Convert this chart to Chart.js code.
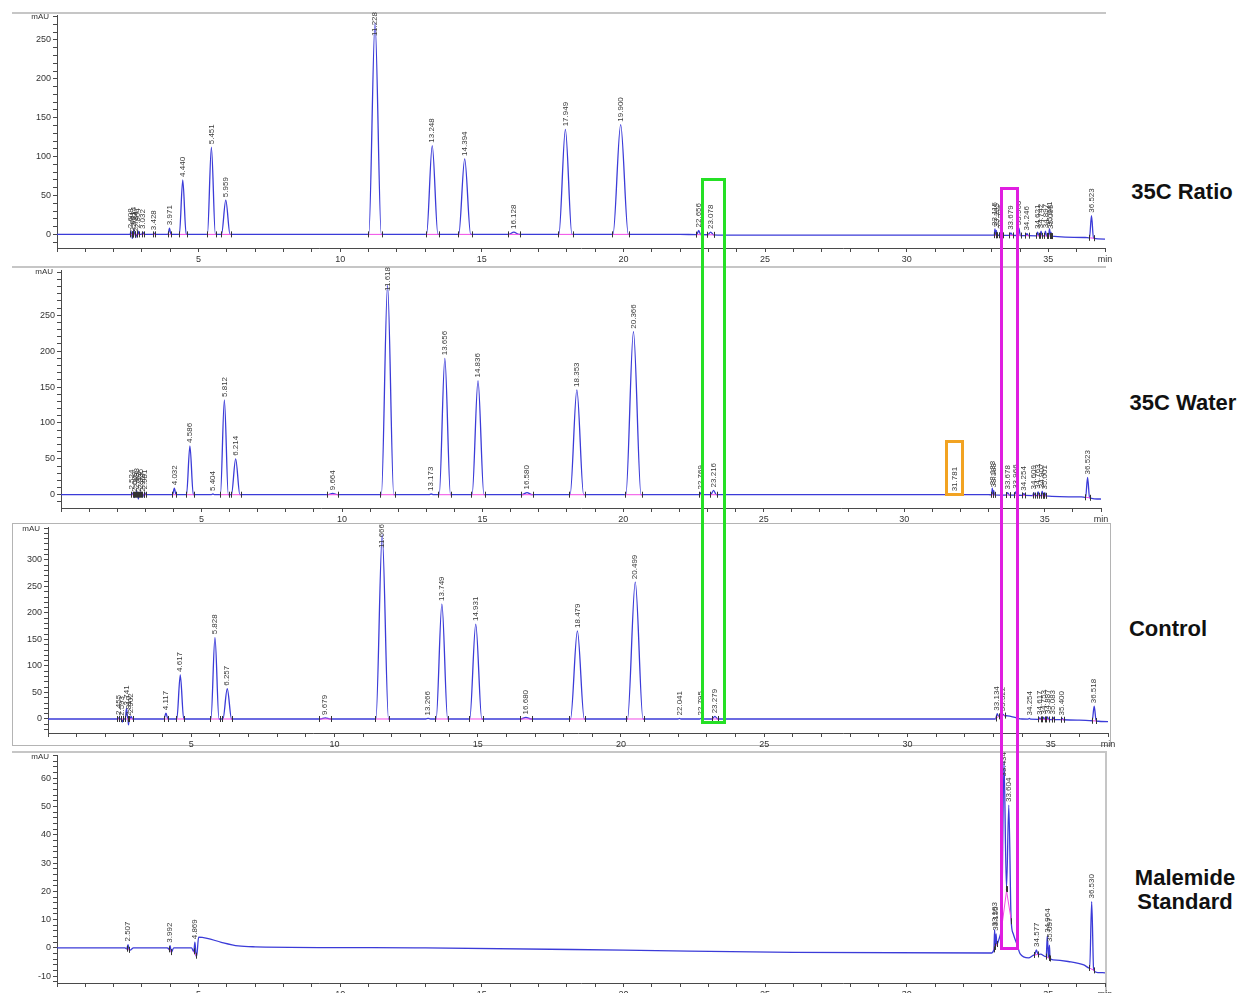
<!DOCTYPE html>
<html>
<head>
<meta charset="utf-8">
<script src="https://cdn.jsdelivr.net/npm/chart.js@4.4.1/dist/chart.umd.min.js"></script>
<style>
  html, body { margin: 0; padding: 0; background: #fff; }
  body { width: 1240px; height: 993px; overflow: hidden; position: relative; font-family: "Liberation Sans", Arial, sans-serif; }
  canvas { position: absolute; }
  .rule { position: absolute; background: #c6c6c6; }
  .frame { position: absolute; box-sizing: border-box; border: 1px solid #b4b4b4; }
  .mark { position: absolute; box-sizing: border-box; border-style: solid; border-width: 3px; }
  .title { position: absolute; width: 130px; text-align: center; font-weight: bold; font-size: 22px; line-height: 24px; color: #111; }
</style>
</head>
<body>

<div class="rule" style="left:12px;top:12px;width:1094px;height:2px"></div>
<div class="rule" style="left:12px;top:266px;width:1094px;height:2px"></div>
<div class="frame" style="left:12px;top:523px;width:1099px;height:223px"></div>
<div class="rule" style="left:12px;top:751px;width:1095px;height:2px"></div>
<div class="rule" style="left:1105px;top:751px;width:2px;height:242px"></div>

<div class="title" style="left:1117px;top:180px">35C Ratio</div>
<div class="title" style="left:1118px;top:391px">35C Water</div>
<div class="title" style="left:1103px;top:617px">Control</div>
<div class="title" style="left:1120px;top:866px">Malemide<br>Standard</div>

<script>
// ---- Retention-time axis (min) ----
const timeMin = 0;
const timeMax = 37;
const timeStep = 1;
const timeLabelEvery = 5;

// ---- 35C Ratio ----
// baseline anchors: [time, mAU]
const ratioBaseline = [[0, 0], [22, 0], [24, -1], [33, -1], [35, -2], [36.3, -4], [37, -6]];
// peaks: [retention time, apex mAU, half width (min)]
const ratioPeaks = [
  [2.608, 4, 0.025], [2.661, -5, 0.025], [2.714, 6, 0.025], [2.784, -4, 0.025], [2.864, 4, 0.03], [3.032, 3, 0.04],
  [3.428, 1.5, 0.04], [3.971, 8, 0.05], [4.440, 70, 0.12], [5.451, 112, 0.14], [5.959, 44, 0.15],
  [11.228, 272, 0.22], [13.248, 114, 0.2], [14.394, 97, 0.21], [16.128, 3, 0.18], [17.949, 135, 0.23], [19.900, 141, 0.27],
  [22.656, 5, 0.07], [23.078, 3, 0.1],
  [33.115, 7, 0.025], [33.165, 5, 0.025], [33.326, 3, 0.05], [33.679, 2, 0.06], [33.960, 8, 0.05], [34.246, 1, 0.05],
  [34.621, 3, 0.04], [34.742, 4, 0.04], [34.897, 4, 0.04], [35.041, 7, 0.035], [35.095, 3, 0.018], [36.523, 24, 0.07]
];
// [axis min, axis max, highest labelled tick]
const ratioRange = [-17.5, 282, 250];

// ---- 35C Water ----
const waterBaseline = [[0, 0], [33, 0], [35, -1.5], [36.3, -3], [37, -6]];
const waterPeaks = [
  [2.524, 3, 0.025], [2.609, -4, 0.025], [2.688, 5, 0.025], [2.752, -6, 0.025], [2.835, 4, 0.025], [2.907, -3, 0.025], [2.981, 3, 0.03],
  [4.032, 9, 0.06], [4.586, 68, 0.12], [5.404, 1, 0.05], [5.812, 132, 0.14], [6.214, 50, 0.15], [9.664, 2, 0.18],
  [11.618, 292, 0.22], [13.173, 1, 0.08], [13.656, 190, 0.2], [14.836, 159, 0.21], [16.580, 3, 0.18], [18.353, 146, 0.24], [20.366, 227, 0.27],
  [22.769, 3, 0.05], [23.216, 6, 0.1], [31.781, 0.5, 0.08],
  [33.133, 9, 0.025], [33.183, 6, 0.025], [33.678, 3, 0.06], [33.966, 4, 0.05], [34.254, 1.5, 0.05],
  [34.609, 3, 0.04], [34.763, 4, 0.04], [34.907, 5, 0.04], [35.001, 3, 0.03], [36.523, 24, 0.07]
];
const waterRange = [-18.5, 313, 250];

// ---- Control ----
const controlBaseline = [[0, 0], [33.05, 0], [33.25, 7], [33.5, 6], [33.75, 3], [34.0, 0], [36, -2], [37, -5]];
const controlPeaks = [
  [2.455, 2, 0.03], [2.593, -6, 0.035], [2.741, 20, 0.045], [2.810, -11, 0.02], [2.902, 5, 0.05],
  [4.117, 11, 0.07], [4.617, 83, 0.12], [5.828, 154, 0.14], [6.257, 57, 0.15], [9.679, 2, 0.18],
  [11.666, 347, 0.22], [13.266, 1, 0.08], [13.749, 217, 0.2], [14.931, 179, 0.21], [16.680, 3, 0.18], [18.479, 166, 0.24], [20.499, 258, 0.27],
  [22.041, 1, 0.05], [22.795, 1, 0.05], [23.279, 5, 0.1],
  [33.134, 10, 0.05], [33.322, 9, 0.06], [34.254, 1, 0.04], [34.617, 2, 0.04], [34.753, 3, 0.04], [34.887, 4, 0.04],
  [35.083, 3, 0.04], [35.400, 1, 0.05], [36.518, 24, 0.07]
];
const controlRange = [-26.4, 362, 300];

// ---- Malemide Standard ----
const standardBaseline = [
  [0, 0], [2.4, 0], [2.58, -0.8], [2.7, 0], [3.9, 0], [4.04, -1.5], [4.12, 0], [4.75, 0], [4.93, -3], [5.0, 3.8],
  [5.3, 3.4], [5.8, 2], [6.4, 0.7], [7, 0.4], [13, 0], [20, -0.8], [26, -1.6], [33.0, -1.8], [33.22, 2], [33.34, 6],
  [33.52, 21.6], [33.76, 5], [33.9, 1], [34.0, -2], [34.3, -3.5], [34.5, -2.5], [34.72, -2.2], [35.17, -4.2],
  [35.7, -4.8], [36.25, -6], [36.75, -8.7], [37, -8.8]
];
const standardPeaks = [
  [2.507, 1.2, 0.04], [3.992, 0.8, 0.04], [4.869, 2, 0.04],
  [33.103, 6.5, 0.025], [33.155, 5, 0.025], [33.434, 66, 0.085], [33.604, 50.5, 0.08],
  [34.577, -0.7, 0.06], [34.964, 4.3, 0.04], [35.037, 1, 0.025], [36.530, 16.4, 0.07]
];
const standardRange = [-12.4, 68.2, 60];

// ---- helpers ----
function baseAt(anchors, t) {
  for (let i = 1; i < anchors.length; i++) {
    const [t0, y0] = anchors[i - 1];
    const [t1, y1] = anchors[i];
    if (t <= t1) return y0 + (y1 - y0) * (t - t0) / (t1 - t0);
  }
  return anchors[anchors.length - 1][1];
}

// trace: baseline anchors plus start / apex / end of every peak
function tracePoints(anchors, peaks) {
  const pts = anchors.map(([x, y]) => ({ x, y }));
  peaks.forEach(([t, h, w]) => {
    pts.push({ x: t - w, y: baseAt(anchors, t - w) });
    pts.push({ x: t, y: h });
    pts.push({ x: t + w, y: baseAt(anchors, t + w) });
  });
  return pts.sort((a, b) => a.x - b.x);
}

// integration baselines drawn under each peak
function integrationSegments(anchors, peaks) {
  const out = [];
  peaks.forEach(([t, h, w]) => {
    const a = t - w * 1.15, b = t + w * 1.15;
    if (Math.abs(h - baseAt(anchors, t)) < 1.5) return;
    out.push({ x: a, y: baseAt(anchors, a) }, { x: b, y: baseAt(anchors, b) }, { x: b + 0.001, y: null });
  });
  return out;
}

const FONT = '"Liberation Sans", Arial, sans-serif';

function makePanel(area, range, yStep, yMajor, anchors, peaks) {
  const yW = 40, xH = 22, padT = 8, padR = 14;
  const w = Math.round(yW + (area.right - area.left) + padR);
  const h = Math.round(padT + (area.bottom - area.top) + xH);
  const canvas = document.createElement('canvas');
  canvas.width = w; canvas.height = h;
  canvas.style.left = (area.left - yW) + 'px';
  canvas.style.top = (area.top - padT) + 'px';
  canvas.style.width = w + 'px';
  canvas.style.height = h + 'px';
  document.body.appendChild(canvas);

  const overlay = {
    id: 'peakText',
    afterDatasetsDraw(chart) {
      const { ctx, chartArea, scales } = chart;
      const xs = scales.x, ys = scales.y;
      ctx.save();
      // integration start/end marks
      ctx.strokeStyle = '#333';
      ctx.lineWidth = 1;
      peaks.forEach(([t, hgt, wd]) => {
        if (Math.abs(hgt - baseAt(anchors, t)) < 1.5) return;
        [t - wd * 1.15, t + wd * 1.15].forEach(tt => {
          const px = Math.round(xs.getPixelForValue(tt)) + 0.5;
          const py = ys.getPixelForValue(baseAt(anchors, tt));
          ctx.beginPath(); ctx.moveTo(px, py - 3); ctx.lineTo(px, py + 3); ctx.stroke();
        });
      });
      // retention-time labels, kept inside the panel frame
      ctx.font = '8px ' + FONT;
      ctx.fillStyle = '#3a3a3a';
      ctx.textAlign = 'left';
      ctx.textBaseline = 'middle';
      const ceil = chartArea.top - 3;
      peaks.forEach(([t, hgt]) => {
        const text = t.toFixed(3);
        const tw = ctx.measureText(text).width;
        const px = xs.getPixelForValue(t);
        let py = ys.getPixelForValue(Math.max(hgt, baseAt(anchors, t))) - 3;
        if (py - tw < ceil) py = ceil + tw;
        ctx.save();
        ctx.translate(px, py);
        ctx.rotate(-Math.PI / 2);
        ctx.fillText(text, 0, 0);
        ctx.restore();
      });
      // unit label
      ctx.fillStyle = '#333';
      ctx.textAlign = 'right';
      ctx.fillText('mAU', chartArea.left - 8, chartArea.top + 2);
      ctx.restore();
    }
  };

  const axisColor = '#4a4a4a';
  return new Chart(canvas, {
    type: 'line',
    data: {
      datasets: [
        {
          data: integrationSegments(anchors, peaks),
          borderColor: '#f04ce6',
          borderWidth: 1,
          pointRadius: 0,
          tension: 0,
          spanGaps: false,
          order: 0
        },
        {
          data: tracePoints(anchors, peaks),
          borderColor: '#3b3bd8',
          borderWidth: 1.3,
          pointRadius: 0,
          cubicInterpolationMode: 'monotone',
          order: 1
        }
      ]
    },
    options: {
      responsive: false,
      animation: false,
      devicePixelRatio: 1,
      layout: { padding: { top: padT, right: padR, left: 0, bottom: 0 } },
      plugins: { legend: { display: false }, tooltip: { enabled: false } },
      scales: {
        x: {
          type: 'linear',
          min: timeMin,
          max: timeMax,
          afterFit: s => { s.height = xH; },
          border: { display: true, color: axisColor, width: 1 },
          grid: { drawOnChartArea: false, drawTicks: true, tickLength: 4, color: axisColor },
          ticks: {
            stepSize: timeStep,
            autoSkip: false,
            includeBounds: false,
            maxRotation: 0,
            minRotation: 0,
            padding: 2,
            color: '#333',
            font: { size: 9, family: FONT },
            callback: v => (v === timeMax ? 'min' : (v > 0 && v % timeLabelEvery === 0 ? String(v) : ''))
          }
        },
        y: {
          type: 'linear',
          min: range[0],
          max: range[1],
          afterFit: s => { s.width = yW; },
          border: { display: true, color: axisColor, width: 1 },
          grid: { drawOnChartArea: false, drawTicks: true, tickLength: 4, color: axisColor },
          ticks: {
            stepSize: yStep,
            autoSkip: false,
            includeBounds: false,
            padding: 2,
            color: '#333',
            font: { size: 9, family: FONT },
            callback: v => (Math.abs(v % yMajor) < 1e-9 && v <= range[2] ? String(v) : '')
          }
        }
      }
    },
    plugins: [overlay]
  });
}

makePanel({ left: 57, top: 15, right: 1105, bottom: 248 }, ratioRange, 10, 50, ratioBaseline, ratioPeaks);
makePanel({ left: 60.5, top: 270, right: 1100, bottom: 508 }, waterRange, 10, 50, waterBaseline, waterPeaks);
makePanel({ left: 48, top: 527, right: 1108, bottom: 733 }, controlRange, 10, 50, controlBaseline, controlPeaks);
makePanel({ left: 57, top: 755, right: 1105, bottom: 983 }, standardRange, 2, 10, standardBaseline, standardPeaks);
</script>

<!-- highlight boxes drawn over the stacked traces -->
<div class="mark" style="left:701px;top:178px;width:25px;height:546px;border-color:#25e025"></div>
<div class="mark" style="left:1000px;top:187px;width:19px;height:763px;border-color:#e01ee0"></div>
<div class="mark" style="left:945px;top:440px;width:19px;height:56px;border-color:#f2a322"></div>

</body>
</html>
